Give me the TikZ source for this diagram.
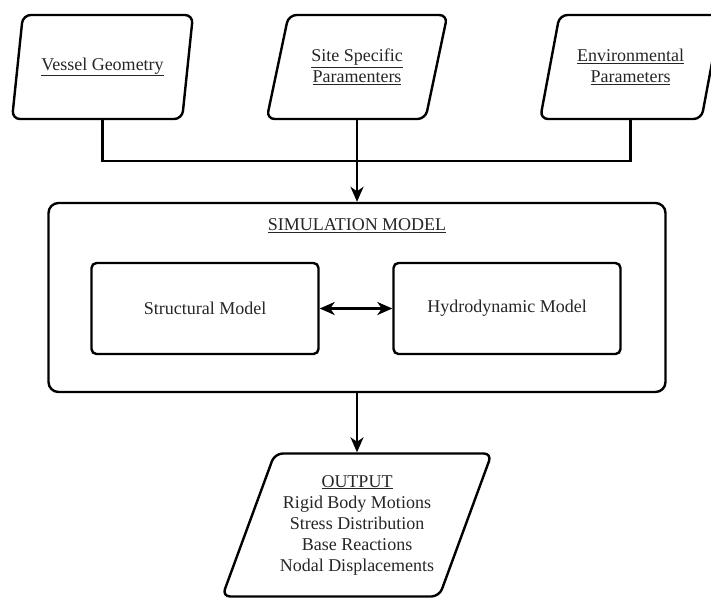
\documentclass[tikz,border=0pt]{standalone}
\usepackage{fontspec}
\setmainfont{Liberation Serif}
\usetikzlibrary{shapes.geometric,arrows.meta}
\begin{document}
\begin{tikzpicture}[x=1pt,y=-1pt,
  font=\fontsize{18}{21}\selectfont,
  tip/.tip={Stealth[length=15pt,width=13pt,inset=4.5pt]},
  para/.style={draw, line width=2.4pt, trapezium, trapezium stretches=true,
    trapezium left angle=69, trapezium right angle=111, rounded corners=8pt,
    minimum width=181pt, minimum height=104pt, align=center, inner sep=2pt,
    text=black!85},
  outerbox/.style={draw, line width=2.4pt, rounded corners=10pt, inner sep=0pt,
    minimum width=617pt, minimum height=189pt},
  modelbox/.style={draw, line width=2.4pt, rounded corners=5pt, inner sep=0pt,
    minimum width=227pt, minimum height=91pt, text=black!85},
  heading/.style={text=black!85, inner sep=0pt},
  wire/.style={line width=2.4pt},
  flow/.style={wire, -tip},
]
\useasboundingbox (0,0) rectangle (711,598);

% input data
\node[para] (vessel) at (102.5,67) {\underline{Vessel Geometry}};
\node[para] (site) at (357,67) {\underline{Site Specific}\\\underline{Paramenters}};
\node[para] (env) at (630.5,67) {\underline{Environmental}\\\underline{Parameters}};

% simulation model with its two coupled parts
\node[outerbox] (sim) at (357,297.5) {};
\node[heading] (simtitle) at (357,226) {\underline{SIMULATION MODEL}};
\node[modelbox] (struct) at (205,308.5) {Structural Model};
\node[modelbox] (hydro) at (507,308.5) {Hydrodynamic Model};

% results
\node[para, trapezium left angle=64, trapezium right angle=116,
      minimum width=270pt, minimum height=143pt] (out) at (357,525)
  {\underline{OUTPUT}\\Rigid Body Motions\\Stress Distribution\\Base Reactions\\Nodal Displacements};

% connectors
\coordinate (join) at (357,161);
\draw[wire] (vessel.center |- vessel.bottom side) |- (join) -| (env.center |- env.bottom side);
\draw[flow] (site.center |- site.bottom side) -- (sim.north);
\draw[wire, tip-tip] (struct) -- (hydro);
\draw[flow] (sim.south) -- (out.center |- out.top side);
\end{tikzpicture}
\end{document}
